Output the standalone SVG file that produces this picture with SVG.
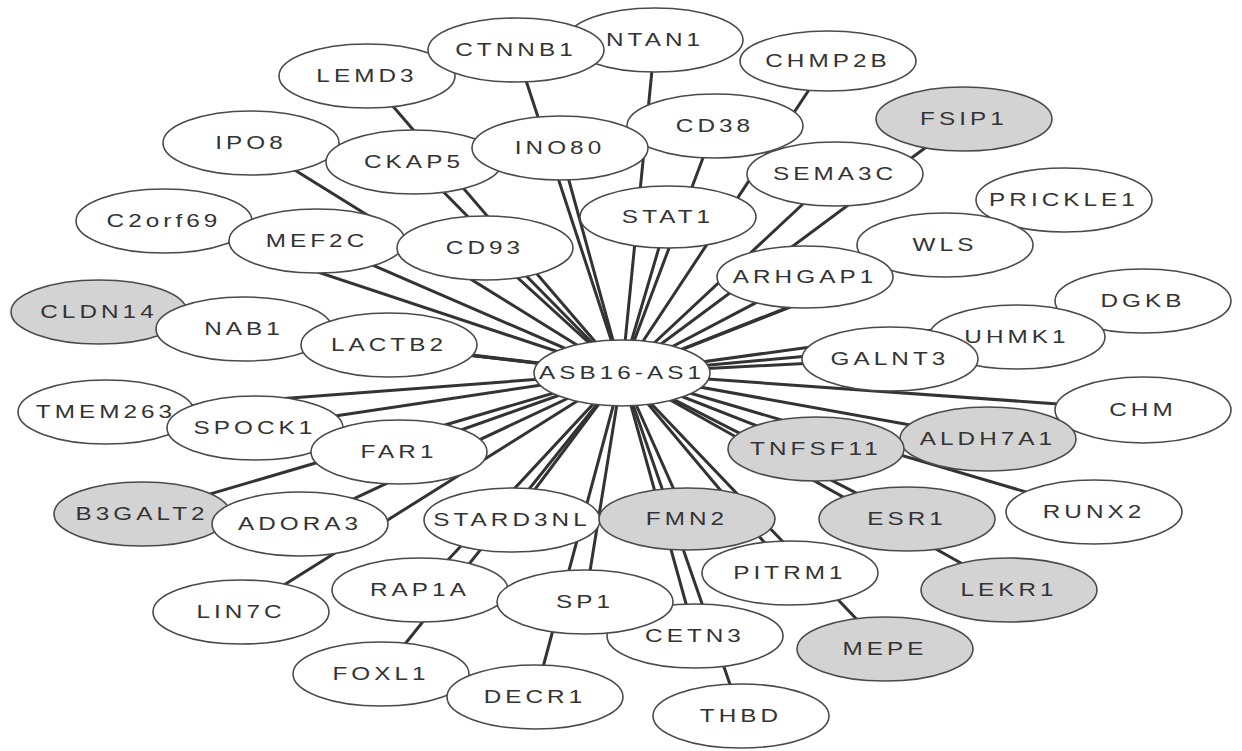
<svg xmlns="http://www.w3.org/2000/svg" width="1242" height="751" viewBox="0 0 1242 751">
<style>
.n ellipse{fill:#fff;stroke:#4a4a4a;stroke-width:1.6}
.n.g ellipse{fill:#d3d3d3}
.n text{font-family:"Liberation Sans",Arial,sans-serif;font-size:18px;fill:#333;text-anchor:middle;letter-spacing:3px;transform:scale(1.35,1);transform-box:fill-box;transform-origin:center}
#edges line{stroke:#333;stroke-width:3;stroke-linecap:round}
</style>
<rect width="1242" height="751" fill="#fff"/>
<g id="edges">
<line x1="622" y1="373" x2="99" y2="312"/>
<line x1="622" y1="373" x2="1143" y2="301"/>
<line x1="622" y1="373" x2="1143" y2="410"/>
<line x1="622" y1="373" x2="106" y2="412"/>
<line x1="622" y1="373" x2="142" y2="514"/>
<line x1="622" y1="373" x2="1094" y2="512"/>
<line x1="622" y1="373" x2="164" y2="221"/>
<line x1="622" y1="373" x2="1064" y2="200"/>
<line x1="622" y1="373" x2="241" y2="612"/>
<line x1="622" y1="373" x2="1009" y2="590"/>
<line x1="622" y1="373" x2="251" y2="143"/>
<line x1="622" y1="373" x2="964" y2="119"/>
<line x1="622" y1="373" x2="1017" y2="337"/>
<line x1="622" y1="373" x2="367" y2="76"/>
<line x1="622" y1="373" x2="381" y2="674"/>
<line x1="622" y1="373" x2="244" y2="329"/>
<line x1="622" y1="373" x2="885" y2="649"/>
<line x1="622" y1="373" x2="828" y2="61"/>
<line x1="622" y1="373" x2="988" y2="439"/>
<line x1="622" y1="373" x2="255" y2="428"/>
<line x1="622" y1="373" x2="741" y2="716"/>
<line x1="622" y1="373" x2="300" y2="524"/>
<line x1="622" y1="373" x2="945" y2="245"/>
<line x1="622" y1="373" x2="655" y2="40"/>
<line x1="622" y1="373" x2="516" y2="50"/>
<line x1="622" y1="373" x2="535" y2="697"/>
<line x1="622" y1="373" x2="317" y2="241"/>
<line x1="622" y1="373" x2="907" y2="519"/>
<line x1="622" y1="373" x2="414" y2="162"/>
<line x1="622" y1="373" x2="420" y2="590"/>
<line x1="622" y1="373" x2="835" y2="174"/>
<line x1="622" y1="373" x2="695" y2="636"/>
<line x1="622" y1="373" x2="890" y2="359"/>
<line x1="622" y1="373" x2="715" y2="126"/>
<line x1="622" y1="373" x2="790" y2="573"/>
<line x1="622" y1="373" x2="399" y2="452"/>
<line x1="622" y1="373" x2="389" y2="345"/>
<line x1="622" y1="373" x2="560" y2="148"/>
<line x1="622" y1="373" x2="585" y2="602"/>
<line x1="622" y1="373" x2="816" y2="449"/>
<line x1="622" y1="373" x2="805" y2="277"/>
<line x1="622" y1="373" x2="485" y2="248"/>
<line x1="622" y1="373" x2="512" y2="520"/>
<line x1="622" y1="373" x2="668" y2="217"/>
<line x1="622" y1="373" x2="687" y2="519"/>
</g>
<g id="n-CLDN14" class="n g"><ellipse cx="99" cy="312" rx="88" ry="32"/><text x="99" y="318">CLDN14</text></g>
<g id="n-DGKB" class="n"><ellipse cx="1143" cy="301" rx="88" ry="32"/><text x="1143" y="307">DGKB</text></g>
<g id="n-CHM" class="n"><ellipse cx="1143" cy="410" rx="88" ry="33"/><text x="1143" y="416">CHM</text></g>
<g id="n-TMEM263" class="n"><ellipse cx="106" cy="412" rx="88" ry="32"/><text x="106" y="418">TMEM263</text></g>
<g id="n-B3GALT2" class="n g"><ellipse cx="142" cy="514" rx="88" ry="32"/><text x="142" y="520">B3GALT2</text></g>
<g id="n-RUNX2" class="n"><ellipse cx="1094" cy="512" rx="88" ry="32"/><text x="1094" y="518">RUNX2</text></g>
<g id="n-C2orf69" class="n"><ellipse cx="164" cy="221" rx="88" ry="32"/><text x="164" y="227">C2orf69</text></g>
<g id="n-PRICKLE1" class="n"><ellipse cx="1064" cy="200" rx="88" ry="32"/><text x="1064" y="206">PRICKLE1</text></g>
<g id="n-LIN7C" class="n"><ellipse cx="241" cy="612" rx="88" ry="32"/><text x="241" y="618">LIN7C</text></g>
<g id="n-LEKR1" class="n g"><ellipse cx="1009" cy="590" rx="88" ry="32"/><text x="1009" y="596">LEKR1</text></g>
<g id="n-IPO8" class="n"><ellipse cx="251" cy="143" rx="88" ry="32"/><text x="251" y="149">IPO8</text></g>
<g id="n-FSIP1" class="n g"><ellipse cx="964" cy="119" rx="88" ry="32"/><text x="964" y="125">FSIP1</text></g>
<g id="n-UHMK1" class="n"><ellipse cx="1017" cy="337" rx="88" ry="32"/><text x="1017" y="343">UHMK1</text></g>
<g id="n-LEMD3" class="n"><ellipse cx="367" cy="76" rx="88" ry="32"/><text x="367" y="82">LEMD3</text></g>
<g id="n-FOXL1" class="n"><ellipse cx="381" cy="674" rx="88" ry="32"/><text x="381" y="680">FOXL1</text></g>
<g id="n-NAB1" class="n"><ellipse cx="244" cy="329" rx="88" ry="32"/><text x="244" y="335">NAB1</text></g>
<g id="n-MEPE" class="n g"><ellipse cx="885" cy="649" rx="88" ry="32"/><text x="885" y="655">MEPE</text></g>
<g id="n-CHMP2B" class="n"><ellipse cx="828" cy="61" rx="88" ry="30"/><text x="828" y="67">CHMP2B</text></g>
<g id="n-ALDH7A1" class="n g"><ellipse cx="988" cy="439" rx="88" ry="32"/><text x="988" y="445">ALDH7A1</text></g>
<g id="n-SPOCK1" class="n"><ellipse cx="255" cy="428" rx="88" ry="32"/><text x="255" y="434">SPOCK1</text></g>
<g id="n-THBD" class="n"><ellipse cx="741" cy="716" rx="88" ry="32"/><text x="741" y="722">THBD</text></g>
<g id="n-ADORA3" class="n"><ellipse cx="300" cy="524" rx="88" ry="32"/><text x="300" y="530">ADORA3</text></g>
<g id="n-WLS" class="n"><ellipse cx="945" cy="245" rx="88" ry="32"/><text x="945" y="251">WLS</text></g>
<g id="n-NTAN1" class="n"><ellipse cx="655" cy="40" rx="88" ry="32"/><text x="655" y="46">NTAN1</text></g>
<g id="n-CTNNB1" class="n"><ellipse cx="516" cy="50" rx="88" ry="32"/><text x="516" y="56">CTNNB1</text></g>
<g id="n-DECR1" class="n"><ellipse cx="535" cy="697" rx="88" ry="32"/><text x="535" y="703">DECR1</text></g>
<g id="n-MEF2C" class="n"><ellipse cx="317" cy="241" rx="88" ry="32"/><text x="317" y="247">MEF2C</text></g>
<g id="n-ESR1" class="n g"><ellipse cx="907" cy="519" rx="88" ry="32"/><text x="907" y="525">ESR1</text></g>
<g id="n-CKAP5" class="n"><ellipse cx="414" cy="162" rx="88" ry="32"/><text x="414" y="168">CKAP5</text></g>
<g id="n-RAP1A" class="n"><ellipse cx="420" cy="590" rx="88" ry="32"/><text x="420" y="596">RAP1A</text></g>
<g id="n-SEMA3C" class="n"><ellipse cx="835" cy="174" rx="88" ry="32"/><text x="835" y="180">SEMA3C</text></g>
<g id="n-CETN3" class="n"><ellipse cx="695" cy="636" rx="88" ry="32"/><text x="695" y="642">CETN3</text></g>
<g id="n-GALNT3" class="n"><ellipse cx="890" cy="359" rx="88" ry="32"/><text x="890" y="365">GALNT3</text></g>
<g id="n-CD38" class="n"><ellipse cx="715" cy="126" rx="88" ry="32"/><text x="715" y="132">CD38</text></g>
<g id="n-PITRM1" class="n"><ellipse cx="790" cy="573" rx="88" ry="32"/><text x="790" y="579">PITRM1</text></g>
<g id="n-FAR1" class="n"><ellipse cx="399" cy="452" rx="88" ry="32"/><text x="399" y="458">FAR1</text></g>
<g id="n-LACTB2" class="n"><ellipse cx="389" cy="345" rx="88" ry="32"/><text x="389" y="351">LACTB2</text></g>
<g id="n-INO80" class="n"><ellipse cx="560" cy="148" rx="88" ry="32"/><text x="560" y="154">INO80</text></g>
<g id="n-SP1" class="n"><ellipse cx="585" cy="602" rx="88" ry="32"/><text x="585" y="608">SP1</text></g>
<g id="n-TNFSF11" class="n g"><ellipse cx="816" cy="449" rx="88" ry="32"/><text x="816" y="455">TNFSF11</text></g>
<g id="n-ARHGAP1" class="n"><ellipse cx="805" cy="277" rx="88" ry="31"/><text x="805" y="283">ARHGAP1</text></g>
<g id="n-CD93" class="n"><ellipse cx="485" cy="248" rx="88" ry="32"/><text x="485" y="254">CD93</text></g>
<g id="n-STARD3NL" class="n"><ellipse cx="512" cy="520" rx="88" ry="32"/><text x="512" y="526">STARD3NL</text></g>
<g id="n-STAT1" class="n"><ellipse cx="668" cy="217" rx="88" ry="31"/><text x="668" y="223">STAT1</text></g>
<g id="n-FMN2" class="n g"><ellipse cx="687" cy="519" rx="88" ry="31"/><text x="687" y="525">FMN2</text></g>
<g id="n-ASB16-AS1" class="n"><ellipse cx="622" cy="373" rx="88" ry="33"/><text x="622" y="379">ASB16-AS1</text></g>
</svg>
